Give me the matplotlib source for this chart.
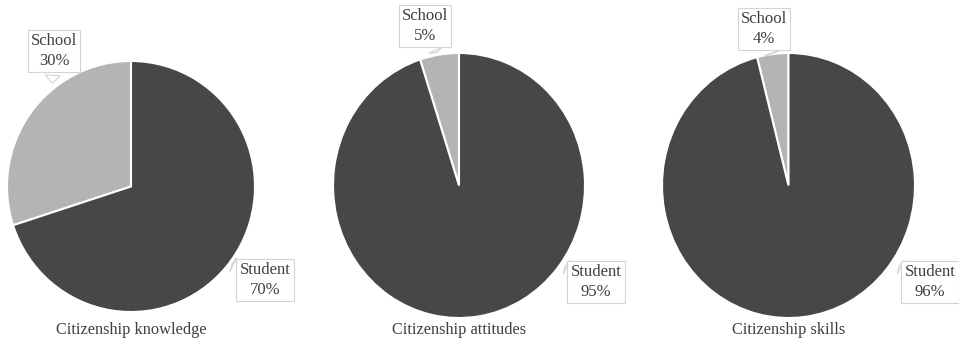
import matplotlib
matplotlib.use("Agg")
import matplotlib.pyplot as plt

plt.rcParams['font.family'] = ['Liberation Serif', 'DejaVu Serif']

# data
titles = ["Citizenship knowledge", "Citizenship attitudes", "Citizenship skills"]
school = [30, 5, 4]
student = [70, 95, 96]
labels = ["School", "Student"]
colors = ["#b4b4b4", "#474747"]

W, H = 959, 344
fig = plt.figure(figsize=(W / 100, H / 100), dpi=100)

def fx(x, y):
    return (x / W, 1 - y / H)

# pie boxes in pixels: left, top, right, bottom
boxes = [(7, 61, 255, 312), (333, 53, 585, 318), (662, 53, 915, 318)]
# label box centres and tail tips (pixels)
school_pos = [((54, 51), (52, 86)), ((425, 26), (438, 55)), ((764, 29), (773, 56))]
student_pos = [((265, 280), (232, 264)), ((596, 282), (565, 266)), ((930, 282), (899, 266))]

txt_color = "#3f3f3f"
for i in range(3):
    l, t, r, b = boxes[i]
    ax = fig.add_axes([l / W, 1 - b / H, (r - l) / W, (b - t) / H])
    ax.pie([school[i], student[i]], colors=colors, startangle=90,
           counterclock=True, radius=1,
           wedgeprops=dict(edgecolor="white", linewidth=1.5))
    ax.set_aspect("auto")
    ax.set_xlim(-1.0, 1.0)
    ax.set_ylim(-1.0, 1.0)
    ax.axis("off")

    cx = (l + r) / 2
    fig.text(*fx(cx, 330), titles[i], ha="center", va="center",
             fontsize=11.8, color=txt_color)

    for (c, tip), name, val in [(school_pos[i], labels[0], school[i]),
                                (student_pos[i], labels[1], student[i])]:
        fig.add_artist(plt.Annotation(
            f"{name}\n{val}%", xy=fx(*tip), xytext=fx(*c),
            xycoords="figure fraction", textcoords="figure fraction",
            ha="center", va="center", fontsize=12, color=txt_color,
            linespacing=1.3,
            bbox=dict(boxstyle="square,pad=0.2", fc="white", ec="#d4d4d4", lw=0.8),
            arrowprops=dict(arrowstyle="wedge,tail_width=0.9,shrink_factor=0.5",
                            fc="white", ec="#d4d4d4", lw=0.8)))

fig.savefig("out.png", dpi=100, facecolor="white")
